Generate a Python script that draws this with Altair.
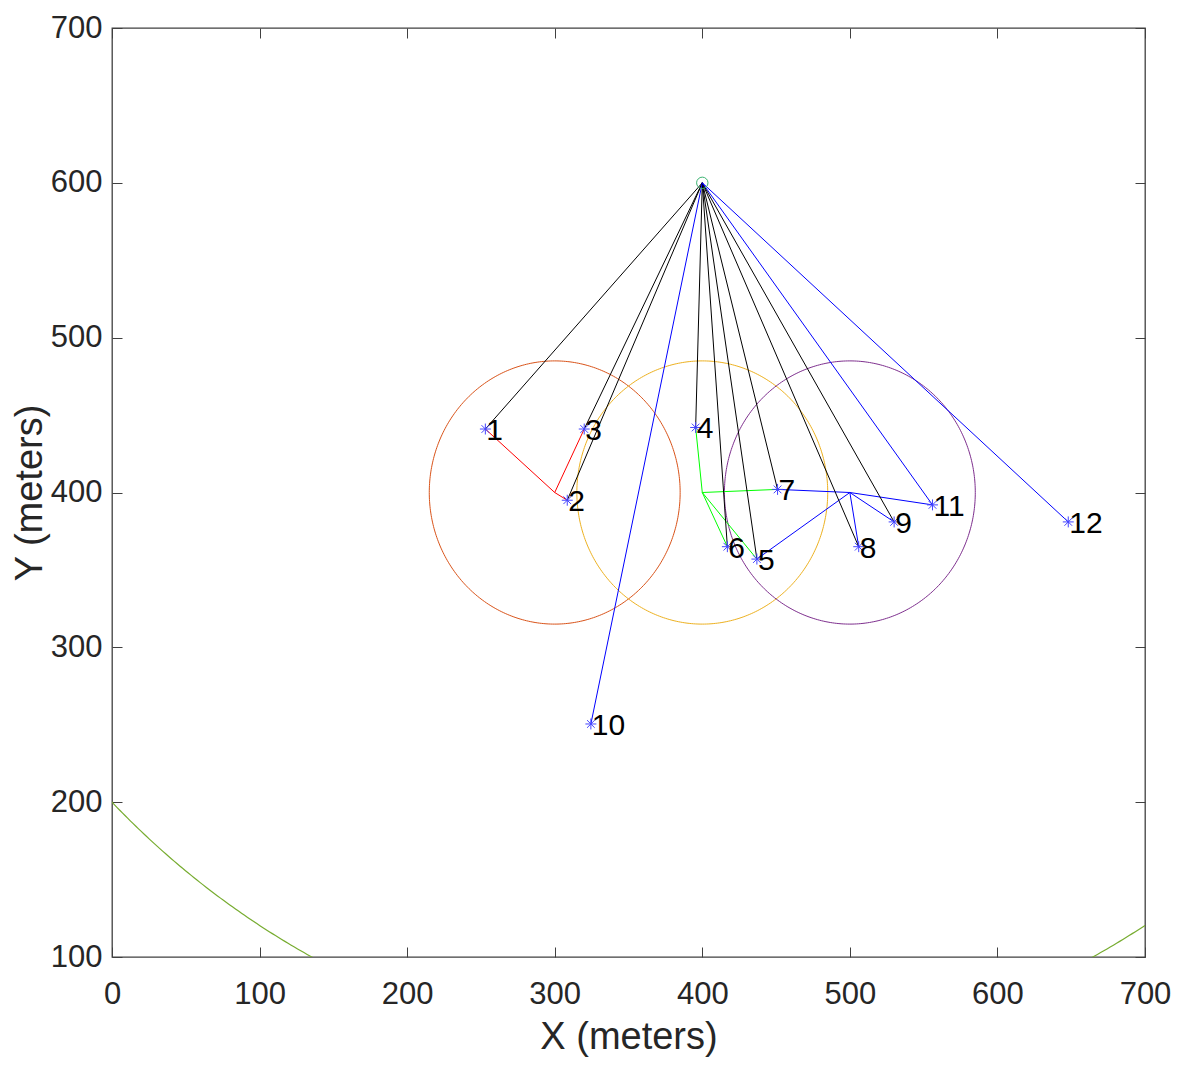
import altair as alt
import numpy as np
import pandas as pd

# ---------------- data ----------------
node_ids = ["1", "2", "3", "4", "5", "6", "7", "8", "9", "10", "11", "12"]
node_x = [253, 308.5, 320, 395.5, 437, 417, 451, 506, 530, 324.5, 556, 648]
node_y = [441, 395, 441, 442, 357, 365, 402, 365, 381, 250.5, 392, 381]

bs_x = [400]
bs_y = [600]

head_x = [300, 400, 500]
head_y = [400, 400, 400]
head_r = [85, 85, 85]
head_circle_colors = ["#D95319", "#EDB120", "#7E2F8E"]
head_link_colors = ["#FF0000", "#00FF00", "#0000FF"]
head_members = [["1", "2", "3"], ["4", "5", "6", "7"], ["5", "7", "8", "9", "11"]]

bs_black_links = ["1", "2", "3", "4", "5", "6", "7", "8", "9"]
bs_blue_links = ["10", "11", "12"]

range_center = [400, 600]
range_radius = [565.7]
range_color = "#77AC30"

x_ticks = [0, 100, 200, 300, 400, 500, 600, 700]
y_ticks = [100, 200, 300, 400, 500, 600, 700]

# ---------------- tables built from the arrays ----------------
nodes = pd.DataFrame({"id": node_ids, "x": node_x, "y": node_y})
pos = {i: (x, y) for i, x, y in zip(node_ids, node_x, node_y)}

segs = []
for hx, hy, col, mem in zip(head_x, head_y, head_link_colors, head_members):
    for m in mem:
        segs.append({"x": hx, "y": hy, "x2": pos[m][0], "y2": pos[m][1], "c": col})
for m in bs_black_links:
    segs.append({"x": bs_x[0], "y": bs_y[0], "x2": pos[m][0], "y2": pos[m][1], "c": "#000000"})
for m in bs_blue_links:
    segs.append({"x": bs_x[0], "y": bs_y[0], "x2": pos[m][0], "y2": pos[m][1], "c": "#0000FF"})
segs = pd.DataFrame(segs)

ang = np.linspace(0, 2 * np.pi, 361)
circ_rows = []
for k, (cx, cy, r, col) in enumerate(zip(head_x, head_y, head_r, head_circle_colors)):
    for j, a in enumerate(ang):
        circ_rows.append({"cid": k, "o": j, "x": cx + r * np.cos(a), "y": cy + r * np.sin(a), "c": col})
circles = pd.DataFrame(circ_rows)

ang2 = np.linspace(np.pi, 2 * np.pi, 721)
arc = pd.DataFrame({
    "o": np.arange(len(ang2)),
    "x": range_center[0] + range_radius[0] * np.cos(ang2),
    "y": range_center[1] + range_radius[0] * np.sin(ang2),
})

bs = pd.DataFrame({"x": bs_x, "y": bs_y})

# ---------------- styling ----------------
FONT = "Liberation Sans"
TXT = "#262626"
AXC = "#404040"
xs = alt.Scale(domain=[0, 700], nice=False, zero=False)
ys = alt.Scale(domain=[100, 700], nice=False, zero=False)

common = dict(grid=False, domain=False, tickSize=10, offset=-10, tickColor=AXC,
              tickWidth=1, labelFont=FONT, labelFontSize=31, labelColor=TXT,
              titleFont=FONT, titleFontSize=38, titleColor=TXT, titleFontWeight="normal")

xa = alt.Axis(values=x_ticks, orient="bottom", labelPadding=22, title="X (meters)",
              titlePadding=9, labelFlush=False, **common)
ya = alt.Axis(values=y_ticks, orient="left", labelPadding=10, title="Y (meters)",
              titlePadding=1, labelFlush=False, **common)
xa2 = alt.Axis(values=x_ticks, orient="top", labels=False, title="", **common)
ya2 = alt.Axis(values=y_ticks, orient="right", labels=False, title="", **common)

def X(f="x"):
    return alt.X(f"{f}:Q", scale=xs, axis=xa)

def Y(f="y"):
    return alt.Y(f"{f}:Q", scale=ys, axis=ya)

circle_layer = alt.Chart(circles).mark_line(strokeWidth=1, clip=True).encode(
    x=X(), y=Y(), detail="cid:N", order="o:Q", color=alt.Color("c:N", scale=None)
)

arc_layer = alt.Chart(arc).mark_line(strokeWidth=1.2, clip=True, color=range_color).encode(
    x=X(), y=Y(), order="o:Q"
)

seg_layer = alt.Chart(segs).mark_rule(strokeWidth=1, clip=True).encode(
    x=X(), y=Y(), x2="x2:Q", y2="y2:Q", color=alt.Color("c:N", scale=None)
)

ASTER = "M-1,0L1,0M0,-1L0,1M-0.7,-0.7L0.7,0.7M-0.7,0.7L0.7,-0.7"
node_layer = alt.Chart(nodes).mark_point(
    shape=ASTER, size=120, filled=False, stroke="#4444FF", strokeWidth=1, opacity=1
).encode(x=X(), y=Y())

label_layer = alt.Chart(nodes).mark_text(
    align="left", baseline="middle", dx=1, dy=2, font=FONT, fontSize=30, color="#000000"
).encode(x=X(), y=Y(), text="id:N")

main = alt.layer(circle_layer, arc_layer, seg_layer, node_layer, label_layer)

bs_layer = alt.Chart(bs).mark_point(
    shape="circle", size=130, filled=False, stroke="#3CB371", strokeWidth=1, opacity=1
).encode(
    x=alt.X("x:Q", scale=xs, axis=xa2),
    y=alt.Y("y:Q", scale=ys, axis=ya2),
)

chart = alt.layer(main, bs_layer).resolve_axis(x="independent", y="independent").properties(
    width=1033,
    height=929,
    autosize=alt.AutoSizeParams(type="none"),
    padding={"left": 104, "top": 20, "right": 26, "bottom": 102},
    background="white",
).configure_view(stroke=AXC, strokeWidth=1.3)

chart.save("out.html", embed_options={"renderer": "svg", "actions": False})
